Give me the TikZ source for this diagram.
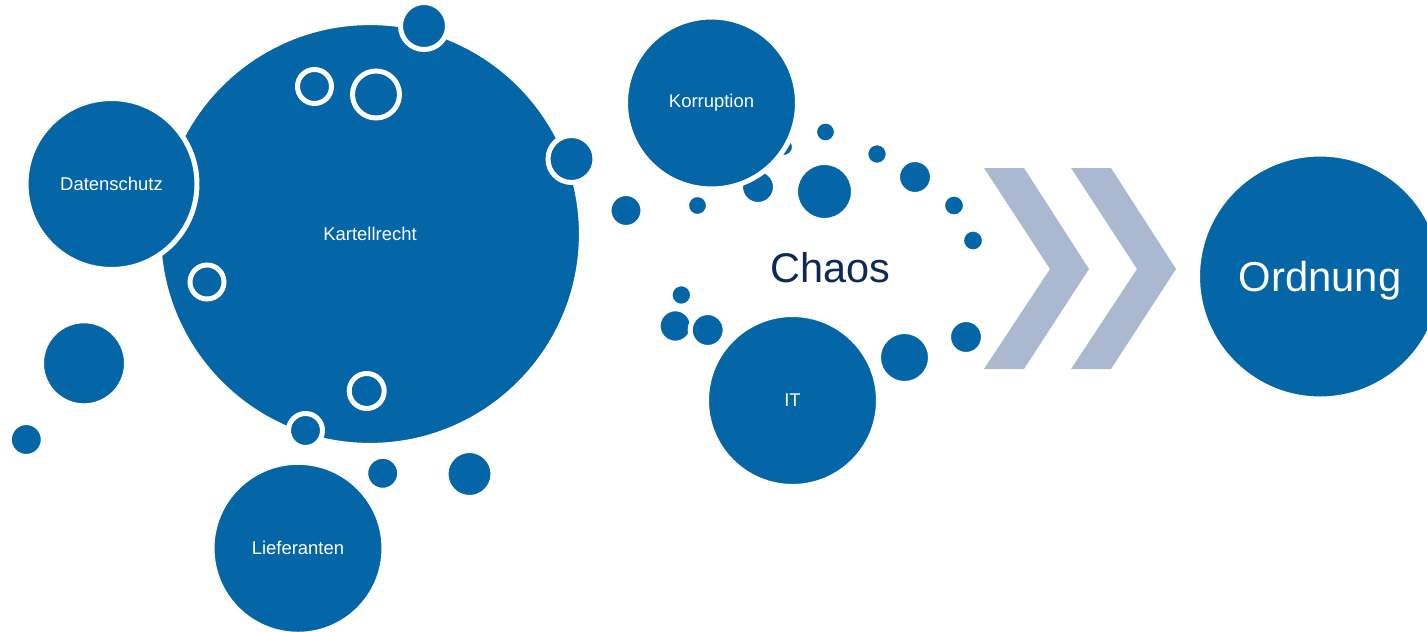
\documentclass[tikz,border=0pt]{standalone}
\usepackage{fontspec}
\setmainfont{Liberation Sans}
\usepackage{tikz}
\usetikzlibrary{positioning}
\definecolor{bubbleblue}{RGB}{4,101,167}
\definecolor{chevgray}{RGB}{170,185,208}
\definecolor{chaosnavy}{RGB}{14,41,84}
\tikzset{
  bubble/.style={circle, fill=bubbleblue, draw=white, line width=0.1cm,
    inner sep=0pt, minimum size=#1*0.04cm, text=white,
    font=\fontsize{10.5}{12}\selectfont},
  dot/.style={fill=bubbleblue, draw=white, line width=0.1cm},
  chevron/.style={fill=chevgray}
}

\begin{document}
\begin{tikzpicture}[x=0.02cm,y=-0.02cm]
  \useasboundingbox (0,0) rectangle (1427,632);
  \node[bubble=211.5] (kartell) at (370,234) {Kartellrecht};
  \node[bubble=85.5] (daten) at (111.5,184) {Datenschutz};
  \foreach \x/\y/\r in {424/26/23.5, 571.5/159/23.5, 314.5/86.5/17, 376/94.5/23.5,
      207/282/17, 366.7/391/17.5, 305.5/430.5/17}
    \filldraw[dot] (\x,\y) circle[radius=\r];
  \foreach \x/\y/\r in {84/363.3/42.5, 26.3/439.5/17, 382.7/473.3/17, 469.5/474/23.5}
    \filldraw[dot] (\x,\y) circle[radius=\r];
  \node[bubble=86] (liefer) at (298,548.3) {Lieferanten};
  \foreach \x/\y/\r in {758/187/17.5, 784/147/10.5}
    \filldraw[dot] (\x,\y) circle[radius=\r];
  \node[bubble=86] (korr) at (711.5,103) {Korruption};
  \foreach \x/\y/\r in {626/210.5/17, 697.5/205.5/11, 825.5/132/11, 824.5/191.5/29,
      877/154/11.3, 915/177/17.5, 954/205.5/11.5, 973/240.5/11.5,
      681.3/295/11.3, 675.3/326/17.2, 707.7/330/17.5, 904.5/357.5/26, 966/337/17.5}
    \filldraw[dot] (\x,\y) circle[radius=\r];
  \node[bubble=86] (it) at (792.5,400.5) {IT};
  \node[text=chaosnavy, font=\fontsize{23.6}{28}\selectfont] (chaos) at (830,267.5) {Chaos};
  \foreach \dx in {0,87}
    \fill[chevron] ({984+\dx},168) -- ({1024+\dx},168) -- ({1089+\dx},269)
      -- ({1024+\dx},369) -- ({984+\dx},369) -- ({1050+\dx},269) -- cycle;
  \node[bubble=122.5, text depth=0pt, font=\fontsize{23.8}{28}\selectfont] (ordnung) at (1320,276.5) {Ordnung};
\end{tikzpicture}
\end{document}
